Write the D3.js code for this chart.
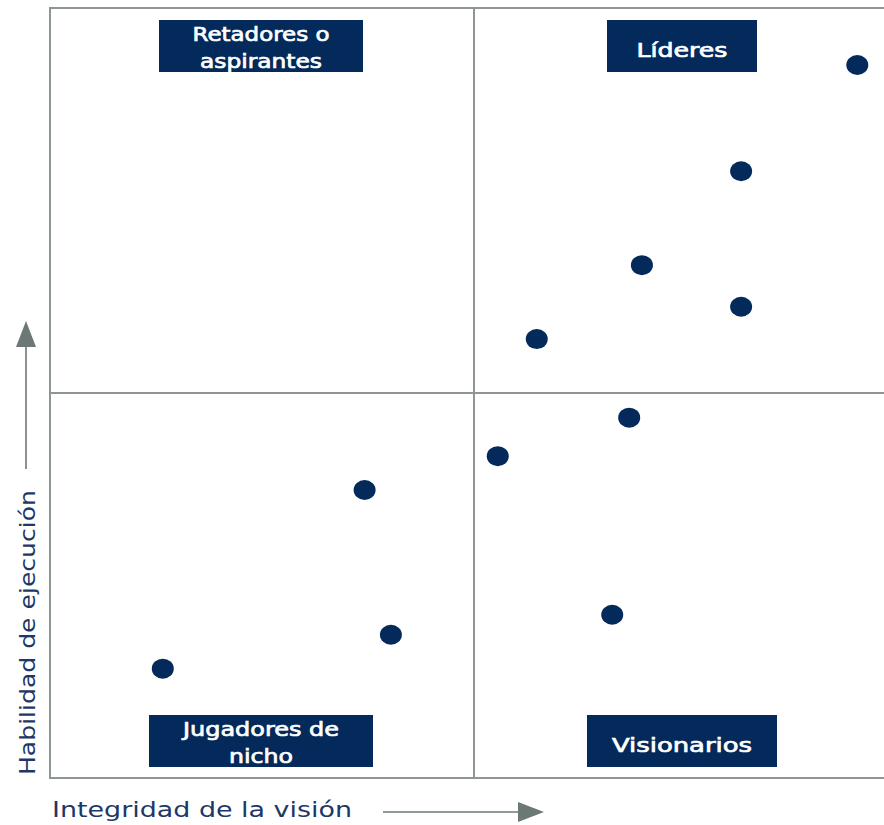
<!DOCTYPE html>
<html>
<head>
<meta charset="utf-8">
<script src="https://cdn.jsdelivr.net/npm/d3@7"></script>
<style>
  html, body { margin: 0; padding: 0; background: #ffffff; }
  svg { display: block; }
</style>
</head>
<body>
<svg id="chart" width="884" height="825"></svg>
<script>
// Vendor positions on a 0–100 scale for each axis
const visionScores    = [95.2, 81.5, 69.8, 81.5, 57.4, 68.3, 52.8, 37.1, 66.3, 40.2, 13.3];
const executionScores = [92.6, 78.8, 66.6, 61.2, 57.0, 46.8, 41.8, 37.4, 21.2, 18.6, 14.2];

// Quadrant names and the corner each one sits in
const quadrantNames   = [["Retadores o", "aspirantes"], ["Líderes"], ["Jugadores de", "nicho"], ["Visionarios"]];
const quadrantCorners = [["left", "top"], ["right", "top"], ["left", "bottom"], ["right", "bottom"]];

const xAxisTitle = "Integridad de la visión";
const yAxisTitle = "Habilidad de ejecución";

const navy = "#032a5a";
const grid = "#8e9692";
const arrowGray = "#6c7875";
const titleColor = "#1d3866";

const svg = d3.select("#chart");
const x = d3.scaleLinear().domain([0, 100]).range([50, 898]);
const y = d3.scaleLinear().domain([0, 100]).range([778, 8]);

// Frame (left, top, bottom) and the two dividing lines
const frame = svg.append("g").attr("stroke", grid).attr("stroke-width", 2).attr("fill", "none");
frame.append("line").attr("x1", x(0)).attr("x2", x(0)).attr("y1", y(100) - 1).attr("y2", y(0) + 1);
frame.append("line").attr("x1", x(0)).attr("x2", 884).attr("y1", y(100)).attr("y2", y(100));
frame.append("line").attr("x1", x(0)).attr("x2", 884).attr("y1", y(0)).attr("y2", y(0));
frame.append("line").attr("x1", x(50)).attr("x2", x(50)).attr("y1", y(100)).attr("y2", y(0));
frame.append("line").attr("x1", x(0)).attr("x2", 884).attr("y1", y(50)).attr("y2", y(50));

// Quadrant name boxes: box geometry plus the drawn width of each text line
const boxSpecs = {
  "left,top":     { cx: 261, top: 20,  w: 204, widths: [137, 122] },
  "right,top":    { cx: 682, top: 20,  w: 150, widths: [91] },
  "left,bottom":  { cx: 261, top: 715, w: 224, widths: [156, 64] },
  "right,bottom": { cx: 682, top: 715, w: 190, widths: [140] }
};
quadrantNames.forEach((lines, i) => {
  const spec = boxSpecs[quadrantCorners[i].join(",")];
  const g = svg.append("g");
  g.append("rect")
    .attr("x", spec.cx - spec.w / 2).attr("y", spec.top)
    .attr("width", spec.w).attr("height", 52)
    .attr("fill", navy);
  const lineH = 27;
  const firstBase = lines.length === 1 ? spec.top + 36.5 : spec.top + 20.5;
  lines.forEach((t, j) => {
    g.append("text")
      .attr("x", spec.cx).attr("y", firstBase + j * lineH)
      .attr("text-anchor", "middle")
      .attr("font-family", "'DejaVu Sans', sans-serif")
      .attr("font-weight", 400)
      .attr("font-size", 19.5)
      .attr("textLength", spec.widths[j])
      .attr("lengthAdjust", "spacingAndGlyphs")
      .attr("fill", "#ffffff")
      .attr("stroke", "#ffffff")
      .attr("stroke-width", 0.7)
      .text(t);
  });
});

// Vendor dots
svg.append("g").selectAll("ellipse")
  .data(visionScores.map((v, i) => ({ v, e: executionScores[i] })))
  .join("ellipse")
  .attr("cx", d => x(d.v))
  .attr("cy", d => y(d.e))
  .attr("rx", 11)
  .attr("ry", 10)
  .attr("fill", navy);

// Axis titles with arrows
const titleFont = "'DejaVu Sans', sans-serif";
svg.append("text")
  .attr("x", 52).attr("y", 817)
  .attr("font-family", titleFont).attr("font-size", 22)
  .attr("textLength", 300).attr("lengthAdjust", "spacingAndGlyphs")
  .attr("fill", titleColor)
  .text(xAxisTitle);
svg.append("line").attr("x1", 383).attr("x2", 520).attr("y1", 812).attr("y2", 812)
  .attr("stroke", arrowGray).attr("stroke-width", 1.6);
svg.append("path").attr("d", "M518,802 L544,812 L518,822 Z").attr("fill", arrowGray);

svg.append("text")
  .attr("transform", "translate(35,775) rotate(-90)")
  .attr("font-family", titleFont).attr("font-size", 22)
  .attr("textLength", 285).attr("lengthAdjust", "spacingAndGlyphs")
  .attr("fill", titleColor)
  .text(yAxisTitle);
svg.append("line").attr("x1", 26).attr("x2", 26).attr("y1", 469).attr("y2", 344)
  .attr("stroke", arrowGray).attr("stroke-width", 1.6);
svg.append("path").attr("d", "M16,347 L26,321 L36,347 Z").attr("fill", arrowGray);
</script>
</body>
</html>
